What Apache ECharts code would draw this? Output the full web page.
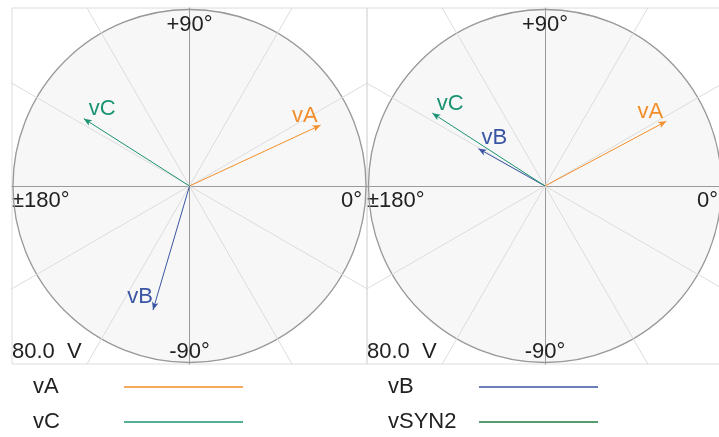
<!DOCTYPE html>
<html><head><meta charset="utf-8">
<script src="https://cdn.jsdelivr.net/npm/echarts@6/dist/echarts.min.js"></script>
<style>html,body{margin:0;padding:0;background:#fff}#c{width:719px;height:437px}</style>
</head><body><div id="c"></div>
<script>
// ---- data ----
const phasorNames = ['vA', 'vB', 'vC'];
const legendCol1 = ['vA', 'vC'];
const legendCol2 = ['vB', 'vSYN2'];
const leftMagnitudes = [65.5, 58.6, 56.8];     // V  (vA, vB, vC)
const leftAngles = [24.9, -106.4, 147.5];      // deg
const rightMagnitudes = [62.3, 34.6, 60.8];    // V
const rightAngles = [28.1, 150.7, 147.1];      // deg
const radiusMax = 80;
const ringStep = 20;
const spokeAngles = [30, 60, 120, 150];
const xTickLabels = ['±180°', '', '0°'];   // at -max, 0, +max
const yTickLabels = ['-90°', '', '+90°'];  // at -max, 0, +max
const scaleLabel = radiusMax.toFixed(1) + '  V';

// ---- styles ----
const colors = { vA: '#f28e2b', vB: '#3a55a3', vC: '#1b9373', vSYN2: '#1e7b3e' };
const FONT = '"Liberation Sans", Arial, sans-serif';
const TXT = '#222';
const panels = [
  { grid: { left: 12, top: 8, width: 355, height: 356 }, center: [189.5, 186] },
  { grid: { left: 367, top: 8, width: 356, height: 356 }, center: [545, 186] }
];
const polarRadius = 176.5;
const labelOffsets = [
  { vA: [-12, -11], vB: [-14, -9], vC: [15, -12] },
  { vA: [-12.5, -11], vB: [12.5, -13], vC: [14.5, -11] }
];
const panelData = [
  { mag: leftMagnitudes, ang: leftAngles },
  { mag: rightMagnitudes, ang: rightAngles }
];

const option = {
  animation: false,
  textStyle: { fontFamily: FONT },
  title: panels.map(p => ({
    text: scaleLabel, left: p.grid.left, top: 341, padding: 0,
    textStyle: { fontSize: 22, fontWeight: 'normal', color: TXT, fontFamily: FONT }
  })),
  legend: [legendCol1, legendCol2].map((names, i) => ({
    data: names.map(n => ({ name: n, icon: 'rect', itemStyle: { color: colors[n], borderWidth: 0 } })),
    orient: 'vertical', align: 'right', left: i === 0 ? 33 : 388, top: 376,
    padding: 0, itemWidth: 119, itemHeight: 1.4, itemGap: 13, selectedMode: false,
    itemStyle: { borderWidth: 0 },
    formatter: n => '{n|' + n + '}',
    textStyle: { rich: { n: { width: 86, align: 'left', fontSize: 22, lineHeight: 22, color: TXT, fontFamily: FONT } } }
  })),
  grid: panels.map(p => ({
    ...p.grid, outerBoundsMode: 'none', containLabel: false,
    show: true, borderColor: '#dcdcdc', borderWidth: 1, backgroundColor: 'transparent'
  })),
  xAxis: panels.map((p, i) => ({
    gridIndex: i, type: 'value', min: -radiusMax, max: radiusMax, interval: radiusMax,
    position: 'bottom', offset: -p.grid.height / 2,
    axisLine: { onZero: false, lineStyle: { color: '#9a9a9a', width: 1 } },
    axisTick: { show: false }, splitLine: { show: false },
    axisLabel: {
      margin: 4, color: TXT, fontSize: 22, fontFamily: FONT, hideOverlap: false,
      alignMinLabel: 'left', alignMaxLabel: 'right', showMinLabel: true, showMaxLabel: true,
      formatter: v => {
        const idx = Math.round((v + radiusMax) / radiusMax);
        const s = xTickLabels[idx] || '';
        return idx === 2 ? '{r|' + s + '}' : s;
      },
      rich: { r: { fontSize: 22, color: TXT, fontFamily: FONT, padding: [0, 5, 0, 0] } }
    }
  })),
  yAxis: panels.map((p, i) => ({
    gridIndex: i, type: 'value', min: -radiusMax, max: radiusMax, interval: radiusMax,
    position: 'left', offset: -p.grid.width / 2,
    axisLine: { onZero: false, lineStyle: { color: '#9a9a9a', width: 1 } },
    axisTick: { show: false }, splitLine: { show: false },
    axisLabel: {
      margin: 0, align: 'center', color: TXT, fontSize: 22, fontFamily: FONT, hideOverlap: false,
      showMinLabel: true, showMaxLabel: true,
      formatter: v => {
        const idx = Math.round((v + radiusMax) / radiusMax);
        const s = yTickLabels[idx] || '';
        if (!s) return '';
        return idx === 2 ? '{t|' + s + '}' : '{b|' + s + '}';
      },
      rich: {
        t: { fontSize: 22, color: TXT, fontFamily: FONT, padding: [33, 0, 0, 0] },
        b: { fontSize: 22, color: TXT, fontFamily: FONT, padding: [0, 0, 24, 0] }
      }
    }
  })),
  polar: panels.map(p => ({ center: p.center, radius: polarRadius })),
  angleAxis: panels.map((p, i) => ({
    polarIndex: i, type: 'value', min: -180, max: 180, interval: 30, startAngle: 180, clockwise: false,
    z: 1,
    axisLine: { show: true, lineStyle: { color: '#999', width: 1.3 } },
    axisTick: { show: false }, axisLabel: { show: false }, splitLine: { show: false }
  })),
  radiusAxis: panels.map((p, i) => ({
    polarIndex: i, type: 'value', min: 0, max: radiusMax, interval: ringStep,
    axisLine: { show: false }, axisTick: { show: false }, axisLabel: { show: false },
    splitLine: { show: true, lineStyle: { color: '#dcdcdc', width: 1 } },
    splitArea: { show: true, areaStyle: { color: ['#f7f7f7'] } }
  })),
  series: []
};

// spokes (extend to panel frame, clipped by grid)
const far = radiusMax * 2;
panels.forEach((p, i) => {
  const d = [];
  spokeAngles.forEach(a => {
    const r = a * Math.PI / 180;
    d.push([-far * Math.cos(r), -far * Math.sin(r)], [far * Math.cos(r), far * Math.sin(r)], '-');
  });
  option.series.push({
    type: 'line', xAxisIndex: i, yAxisIndex: i, symbol: 'none', silent: true, z: 1, clip: true,
    lineStyle: { color: '#dcdcdc', width: 1 }, data: d, connectNulls: false
  });
});

// phasors
panelData.forEach((pd, i) => {
  phasorNames.forEach((name, k) => {
    const ang = pd.ang[k], mag = pd.mag[k];
    option.series.push({
      type: 'line', name, coordinateSystem: 'polar', polarIndex: i, symbol: 'none', silent: true, z: 4,
      lineStyle: { color: colors[name], width: 1 }, itemStyle: { color: colors[name] },
      data: [
        [0, ang],
        {
          value: [mag, ang], symbol: 'arrow', symbolSize: [5, 8], symbolRotate: ang - 90,
          label: {
            show: true, position: 'inside', offset: labelOffsets[i][name], formatter: name,
            color: colors[name], fontSize: 22, fontFamily: FONT
          }
        }
      ]
    });
  });
});
option.series.push({
  type: 'line', name: 'vSYN2', coordinateSystem: 'polar', polarIndex: 1, symbol: 'none',
  lineStyle: { color: colors.vSYN2, width: 1 }, itemStyle: { color: colors.vSYN2 }, data: []
});

const chart = echarts.init(document.getElementById('c'), null, { renderer: 'canvas' });
chart.setOption(option);
</script></body></html>
